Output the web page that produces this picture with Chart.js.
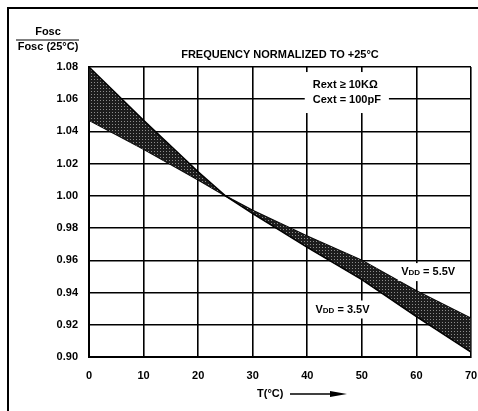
<!DOCTYPE html>
<html>
<head>
<meta charset="utf-8">
<script src="https://cdn.jsdelivr.net/npm/chart.js@4.4.0/dist/chart.umd.min.js"></script>
<style>
  html, body { margin: 0; padding: 0; background: #fff; }
  #wrap { width: 478px; height: 411px; }
</style>
</head>
<body>
<div id="wrap"><canvas id="chart" width="478" height="411"></canvas></div>
<script>
// values
const temps = [0, 10, 20, 25, 30, 40, 50, 60, 70];
const vdd35 = [1.080, 1.047, 1.015, 1.000, 0.989, 0.968, 0.948, 0.925, 0.903];
const vdd55 = [1.047, 1.029, 1.010, 1.000, 0.991, 0.975, 0.960, 0.941, 0.924];
const xTicks = [0, 10, 20, 30, 40, 50, 60, 70];
const yTicks = [0.90, 0.92, 0.94, 0.96, 0.98, 1.00, 1.02, 1.04, 1.06, 1.08];

const FONT = '"Liberation Sans", Arial, Helvetica, sans-serif';

// stipple fill like the scanned halftone
function makePattern() {
    const c = document.createElement('canvas');
    c.width = 3; c.height = 3;
    const g = c.getContext('2d');
    g.fillStyle = '#1c1c1c';
    g.fillRect(0, 0, 3, 3);
    g.fillStyle = '#8c8c8c';
    g.fillRect(1, 1, 1, 1);
    return g.createPattern(c, 'repeat');
}

// text labels inside the plot (white box behind, like the original)
const notes = [
    { t: 41.0, v: [1.0688, 1.0595], padX: 8, padY: 7,
      lines: [[['Rext \u2265 10K\u03A9', 11]], [['Cext = 100pF', 11]]] },
    { t: 57.2, v: [0.9527], padX: 3, padY: 3,
      lines: [[['V', 11], ['DD', 8, 1], [' = 5.5V', 11]]] },
    { t: 41.5, v: [0.9295], padX: 3, padY: 3,
      lines: [[['V', 11], ['DD', 8, 1], [' = 3.5V', 11]]] }
];

function partsWidth(ctx, parts) {
    let w = 0;
    parts.forEach(p => {
        ctx.font = `bold ${p[1]}px ${FONT}`;
        w += ctx.measureText(p[0]).width;
    });
    return w;
}

function drawParts(ctx, parts, x, y) {
    parts.forEach(p => {
        ctx.font = `bold ${p[1]}px ${FONT}`;
        ctx.fillText(p[0], x, y + (p[2] || 0));
        x += ctx.measureText(p[0]).width;
    });
}

const deko = {
    id: 'deko',
    afterDatasetsDraw(chart) {
        const { ctx, scales: { x, y } } = chart;
        ctx.save();
        ctx.textBaseline = 'middle';
        ctx.textAlign = 'left';
        notes.forEach(n => {
            const px = x.getPixelForValue(n.t);
            const ys = n.v.map(v => y.getPixelForValue(v));
            const w = Math.max(...n.lines.map(l => partsWidth(ctx, l)));
            const top = Math.min(...ys) - 6 - n.padY;
            const bot = Math.max(...ys) + 6 + n.padY;
            ctx.fillStyle = '#fff';
            ctx.fillRect(px - n.padX, top, w + 2 * n.padX, bot - top);
            ctx.fillStyle = '#000';
            n.lines.forEach((l, i) => drawParts(ctx, l, px, ys[i]));
        });
        ctx.restore();
    },
    afterDraw(chart) {
        const { ctx, chartArea: a } = chart;
        ctx.save();
        ctx.strokeStyle = '#000';
        ctx.fillStyle = '#000';

        // outer frame (top + left only visible)
        ctx.lineWidth = 2;
        ctx.beginPath();
        ctx.moveTo(8, 411);
        ctx.lineTo(8, 8);
        ctx.lineTo(478, 8);
        ctx.stroke();

        ctx.textBaseline = 'middle';
        ctx.textAlign = 'center';
        ctx.font = `bold 11px ${FONT}`;

        // y axis title as a fraction
        ctx.fillText('Fosc', 48, 32);
        ctx.lineWidth = 1.2;
        ctx.beginPath();
        ctx.moveTo(16, 40);
        ctx.lineTo(79, 40);
        ctx.stroke();
        ctx.fillText('Fosc (25\u00B0C)', 48, 47);

        // title
        ctx.fillText('FREQUENCY NORMALIZED TO +25\u00B0C', (a.left + a.right) / 2, 55);

        // x axis title with arrow
        ctx.textAlign = 'left';
        ctx.fillText('T(\u00B0C)', 257, 394);
        ctx.lineWidth = 1.5;
        ctx.beginPath();
        ctx.moveTo(290, 394);
        ctx.lineTo(336, 394);
        ctx.stroke();
        ctx.beginPath();
        ctx.moveTo(347, 394);
        ctx.lineTo(330, 391);
        ctx.lineTo(330, 397);
        ctx.closePath();
        ctx.fill();
        ctx.restore();
    }
};

const tickFont = { family: FONT, size: 11, weight: 'bold' };

new Chart(document.getElementById('chart'), {
    type: 'line',
    data: {
        datasets: [{
            label: 'VDD = 3.5V',
            data: temps.map((t, i) => ({ x: t, y: vdd35[i] })),
            borderColor: '#000',
            borderWidth: 1.5,
            backgroundColor: makePattern(),
            fill: '+1',
            pointRadius: 0,
            tension: 0
        }, {
            label: 'VDD = 5.5V',
            data: temps.map((t, i) => ({ x: t, y: vdd55[i] })),
            borderColor: '#000',
            borderWidth: 1.5,
            fill: false,
            pointRadius: 0,
            tension: 0
        }]
    },
    options: {
        responsive: false,
        animation: false,
        devicePixelRatio: 1,
        layout: { padding: { top: 67, right: 7, left: 0, bottom: 0 } },
        plugins: {
            legend: { display: false },
            tooltip: { enabled: false },
            title: { display: false }
        },
        scales: {
            x: {
                type: 'linear',
                min: 0,
                max: 70,
                afterBuildTicks: s => { s.ticks = xTicks.map(v => ({ value: v })); },
                afterFit: s => { s.height = 54; s.paddingLeft = 0; s.paddingRight = 0; },
                ticks: { color: '#000', font: tickFont, padding: 12, maxRotation: 0, autoSkip: false },
                grid: { color: '#000', lineWidth: 1.6, drawTicks: false },
                border: { color: '#000', width: 2 }
            },
            y: {
                min: 0.90,
                max: 1.08,
                afterBuildTicks: s => { s.ticks = yTicks.map(v => ({ value: v })); },
                afterFit: s => { s.width = 89; s.paddingTop = 0; s.paddingBottom = 0; },
                ticks: { color: '#000', font: tickFont, padding: 11, callback: v => v.toFixed(2) },
                grid: { color: '#000', lineWidth: 1.6, drawTicks: false },
                border: { color: '#000', width: 2 }
            }
        }
    },
    plugins: [deko]
});
</script>
</body>
</html>
